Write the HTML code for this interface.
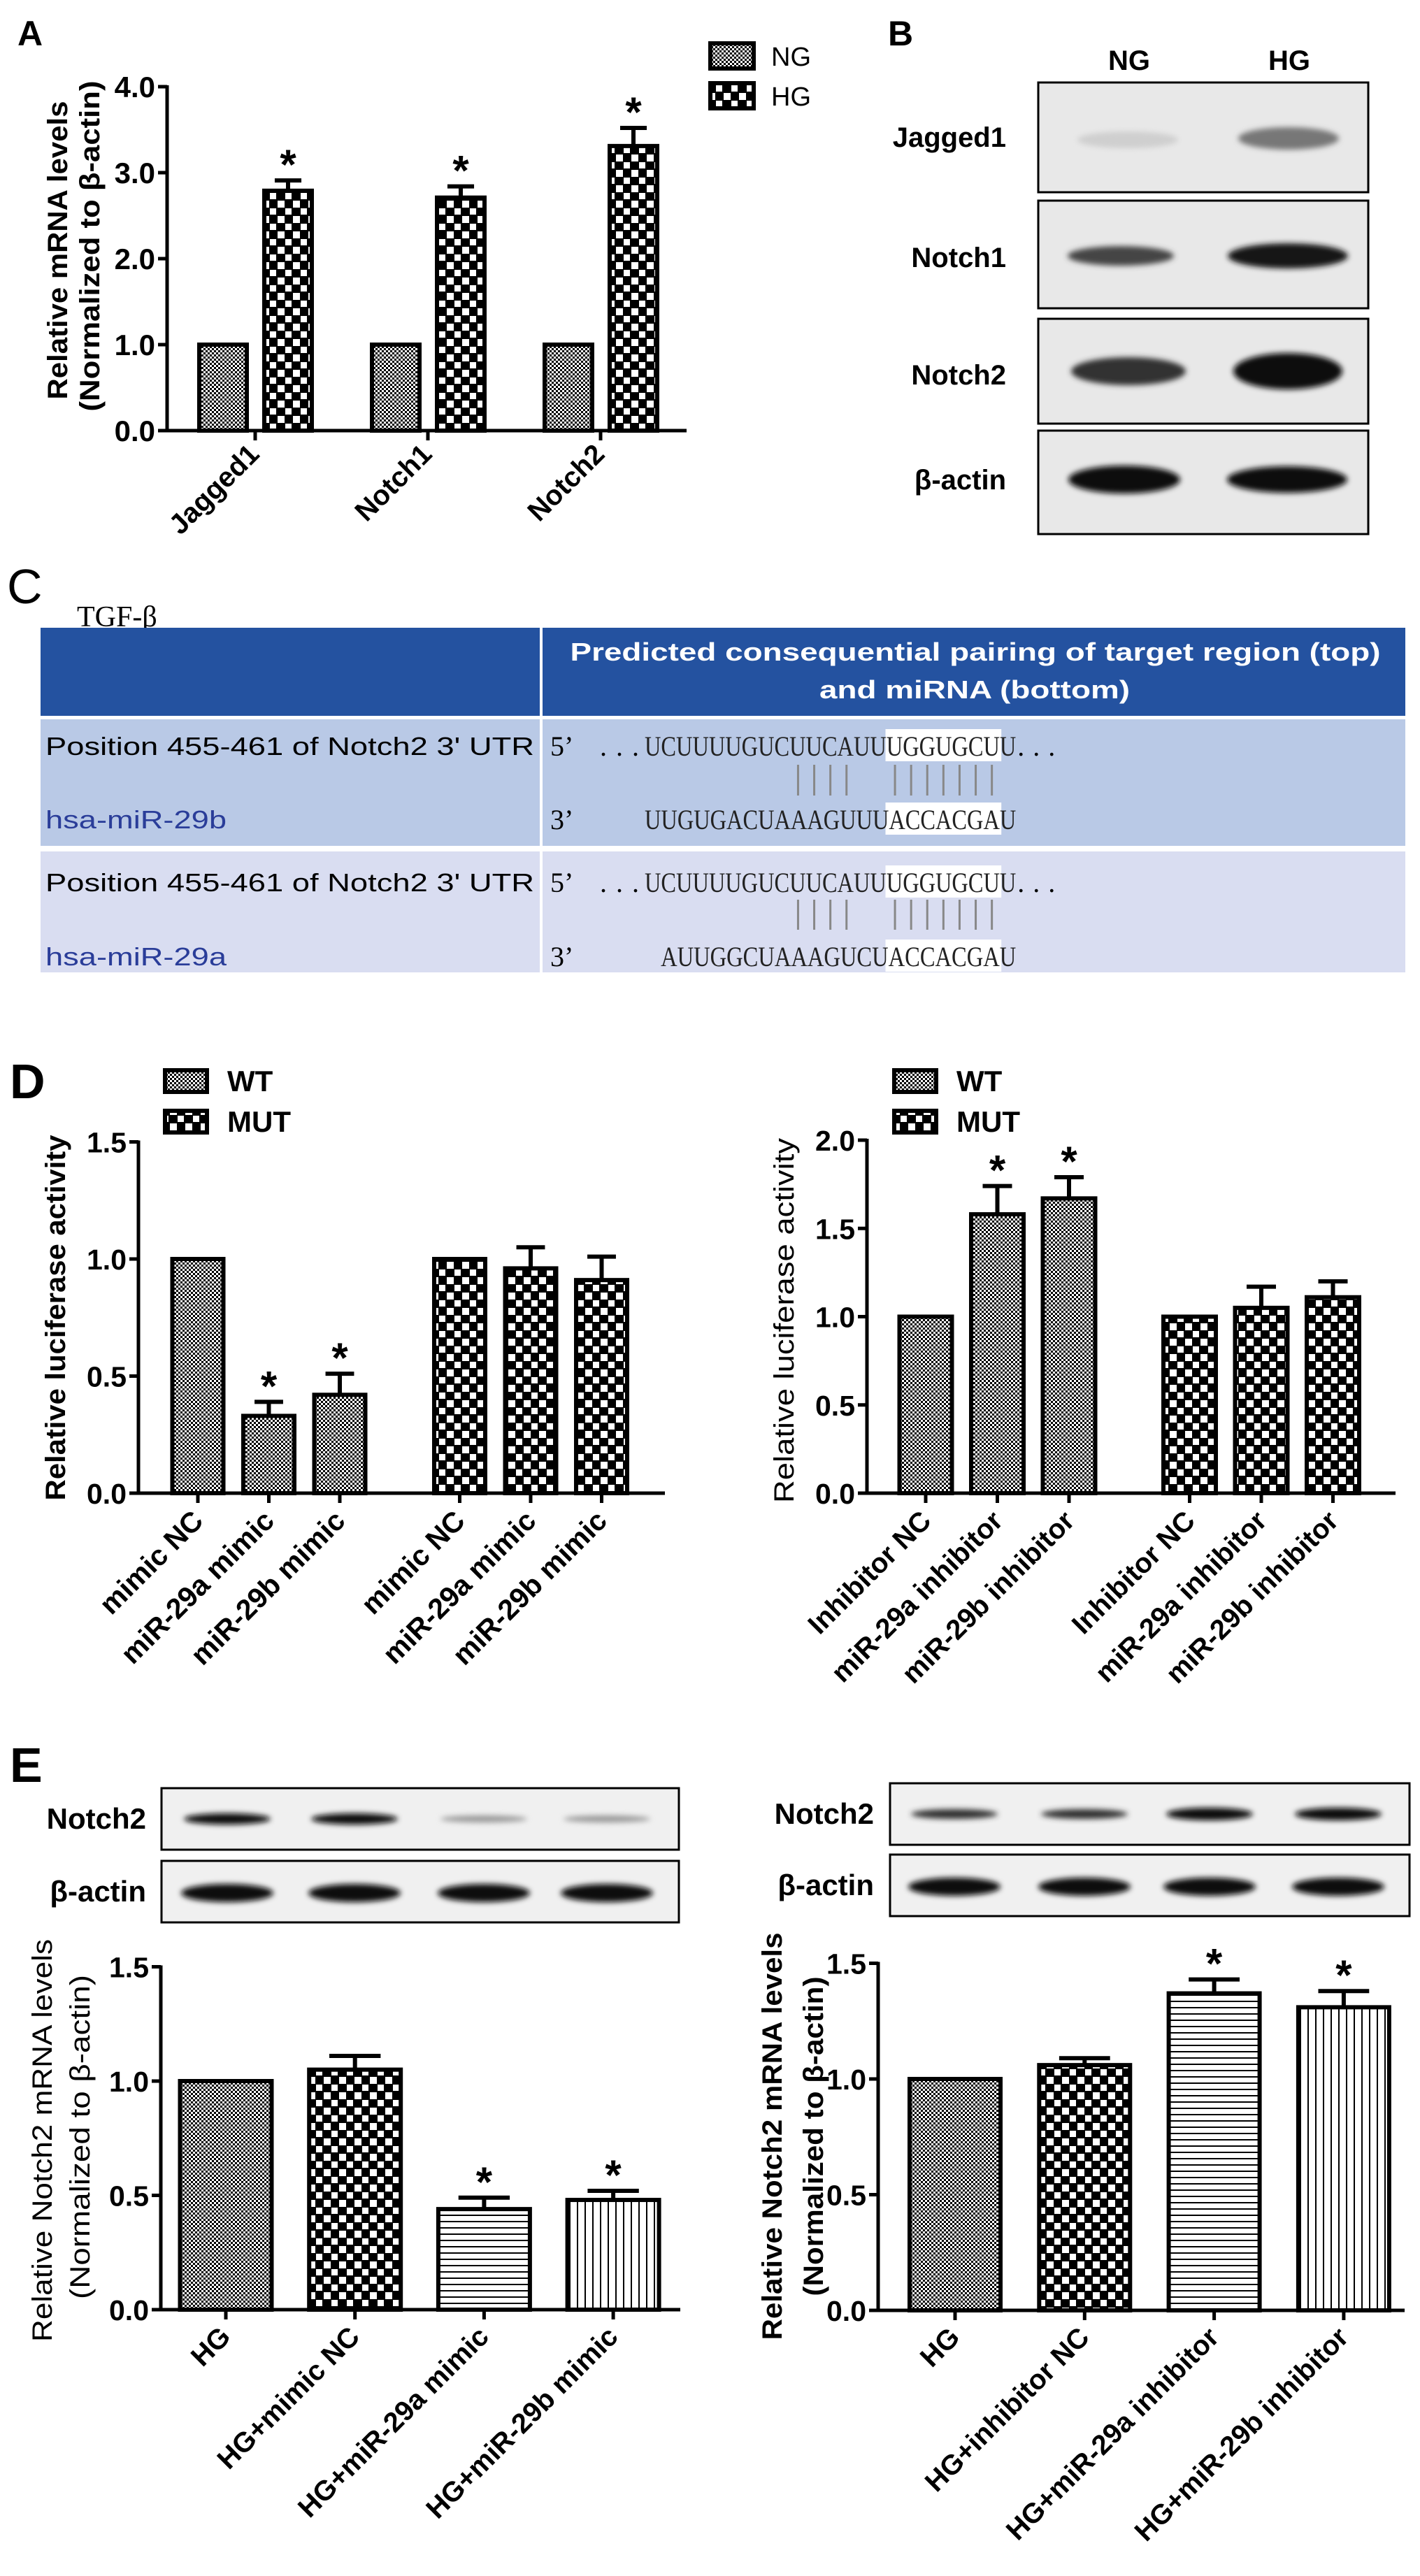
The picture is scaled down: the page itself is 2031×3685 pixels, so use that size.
<!DOCTYPE html>
<html><head><meta charset="utf-8"><title>Figure</title>
<style>html,body{margin:0;padding:0;background:#fff}svg{display:block}text{font-family:"Liberation Sans",Arial,sans-serif}</style>
</head><body>
<svg id="fig" xmlns="http://www.w3.org/2000/svg" width="2031" height="3685" viewBox="0 0 2031 3685">
<defs>
<pattern id="pDots" width="6" height="6" patternUnits="userSpaceOnUse"><rect width="6" height="6" fill="#000"/><rect x="0" y="0" width="3" height="3" fill="#fff"/><rect x="3" y="3" width="3" height="3" fill="#fff"/></pattern>
<pattern id="pCheck" width="22" height="22" patternUnits="userSpaceOnUse"><rect width="22" height="22" fill="#000"/><rect x="1" y="1" width="10" height="10" fill="#fff"/><rect x="12" y="12" width="9" height="9" fill="#fff"/></pattern>
<pattern id="pHLines" width="9" height="9" patternUnits="userSpaceOnUse"><rect width="9" height="9" fill="#fff"/><rect y="0" width="9" height="2" fill="#000"/></pattern>
<pattern id="pVLines" width="11" height="11" patternUnits="userSpaceOnUse"><rect width="11" height="11" fill="#fff"/><rect x="0" width="2" height="11" fill="#000"/></pattern>
<filter id="blur" x="-20%" y="-60%" width="140%" height="220%"><feGaussianBlur stdDeviation="4"/></filter>
</defs>
<rect width="2031" height="3685" fill="#fff"/>

<text x="25" y="65" font-size="50" font-weight="bold">A</text>
<text x="1270" y="65" font-size="50" font-weight="bold">B</text>
<text x="10" y="863" font-size="70">C</text>
<text x="14" y="1571" font-size="70" font-weight="bold">D</text>
<text x="14" y="2549" font-size="70" font-weight="bold">E</text>

<g>
<rect x="1016" y="62" width="62" height="36" fill="url(#pDots)" stroke="#000" stroke-width="6"/>
<text x="1103" y="94" font-size="38">NG</text>
<rect x="1016" y="119" width="62" height="36" fill="url(#pCheck)" stroke="#000" stroke-width="6"/>
<text x="1103" y="151" font-size="38">HG</text>
</g>

<g font-weight="bold">
<text x="1615" y="100" font-size="40" text-anchor="middle">NG</text>
<text x="1844" y="100" font-size="40" text-anchor="middle">HG</text>
<rect x="1485" y="118" width="472" height="157" fill="#e8e8e8" stroke="#000" stroke-width="3"/>
<rect x="1485" y="287" width="472" height="154" fill="#e8e8e8" stroke="#000" stroke-width="3"/>
<rect x="1485" y="456" width="472" height="150" fill="#e8e8e8" stroke="#000" stroke-width="3"/>
<rect x="1485" y="616" width="472" height="148" fill="#e8e8e8" stroke="#000" stroke-width="3"/>
<g filter="url(#blur)">
<ellipse cx="1613" cy="200" rx="72" ry="12" fill="#cfcfcf"/>
<ellipse cx="1843" cy="198" rx="72" ry="16" fill="#777"/>
<ellipse cx="1603" cy="366" rx="76" ry="14" fill="#444"/>
<ellipse cx="1842" cy="366" rx="86" ry="18" fill="#151515"/>
<ellipse cx="1614" cy="531" rx="82" ry="20" fill="#303030"/>
<ellipse cx="1842" cy="531" rx="78" ry="26" fill="#0c0c0c"/>
<ellipse cx="1608" cy="686" rx="80" ry="20" fill="#0c0c0c"/>
<ellipse cx="1841" cy="686" rx="86" ry="19" fill="#0c0c0c"/>
</g>
<text x="1439" y="210" font-size="40" text-anchor="end">Jagged1</text>
<text x="1439" y="382" font-size="40" text-anchor="end">Notch1</text>
<text x="1439" y="550" font-size="40" text-anchor="end">Notch2</text>
<text x="1439" y="700" font-size="40" text-anchor="end">β-actin</text>
</g>

<g>
<text x="110" y="896" font-size="42" style="font-family:'Liberation Serif',serif">TGF-β</text>
<rect x="58" y="898" width="1952" height="126" fill="#2452a0"/>
<rect x="58" y="1029" width="1952" height="181" fill="#b9c9e6"/>
<rect x="58" y="1218" width="1952" height="173" fill="#d9ddf1"/>
<rect x="772" y="898" width="4" height="493" fill="#fff"/>
<text x="1395" y="945" font-size="36" font-weight="bold" fill="#fff" text-anchor="middle" textLength="1159" lengthAdjust="spacingAndGlyphs">Predicted consequential pairing of target region (top)</text>
<text x="1394" y="999" font-size="36" font-weight="bold" fill="#fff" text-anchor="middle" textLength="444" lengthAdjust="spacingAndGlyphs">and miRNA (bottom)</text>
<g id="rowsC"></g>
</g>

<g id="charts"></g>
</svg>
<script>
const NS = 'http://www.w3.org/2000/svg';
const svg = document.getElementById('fig');

const aCats = ['Jagged1', 'Notch1', 'Notch2'];
const aNG = [1.0, 1.0, 1.0];
const aHG = [2.79, 2.71, 3.31];
const aHGErr = [0.12, 0.13, 0.21];
const aTicks = [0, 1, 2, 3, 4];

const dlCats = ['mimic NC', 'miR-29a mimic', 'miR-29b mimic', 'mimic NC', 'miR-29a mimic', 'miR-29b mimic'];
const dlVals = [1.0, 0.33, 0.42, 1.0, 0.96, 0.91];
const dlErr = [0, 0.06, 0.09, 0, 0.09, 0.10];
const dlSig = [0, 1, 1, 0, 0, 0];
const dlTicks = [0, 0.5, 1.0, 1.5];
const drCats = ['Inhibitor NC', 'miR-29a inhibitor', 'miR-29b inhibitor', 'Inhibitor NC', 'miR-29a inhibitor', 'miR-29b inhibitor'];
const drVals = [1.0, 1.58, 1.67, 1.0, 1.05, 1.11];
const drErr = [0, 0.16, 0.12, 0, 0.12, 0.09];
const drSig = [0, 1, 1, 0, 0, 0];
const drTicks = [0, 0.5, 1.0, 1.5, 2.0];

const elCats = ['HG', 'HG+mimic NC', 'HG+miR-29a mimic', 'HG+miR-29b mimic'];
const elVals = [1.0, 1.05, 0.44, 0.48];
const elErr = [0, 0.06, 0.05, 0.04];
const elSig = [0, 0, 1, 1];
const erCats = ['HG', 'HG+inhibitor NC', 'HG+miR-29a inhibitor', 'HG+miR-29b inhibitor'];
const erVals = [1.0, 1.06, 1.37, 1.31];
const erErr = [0, 0.03, 0.06, 0.07];
const erSig = [0, 0, 1, 1];
const eTicks = [0, 0.5, 1.0, 1.5];

function mk(tag, attrs, name, parent, txt) {
  const e = document.createElementNS(NS, tag);
  for (const k in attrs) e.setAttribute(k, attrs[k]);
  
  
  if (txt !== undefined) e.textContent = txt;
  (parent || svg).appendChild(e);
  return e;
}

(function () {
  const g = document.getElementById('rowsC');
  const cw = 23.1, sx = 922;
  const rows = [
    {top: 1067, bot: 1172, lines: [1094, 1138], name: 'hsa-miR-29b', mir: 'UUGUGACUAAAGUUUACCACGAU', mirStart: 0},
    {top: 1262, bot: 1368, lines: [1287, 1330], name: 'hsa-miR-29a', mir: 'AUUGGCUAAAGUCUACCACGAU', mirStart: 1}
  ];
  rows.forEach((r, ri) => {
    mk('text', {x: 65, y: r.top + 13, 'font-size': 36, textLength: 699, lengthAdjust: 'spacingAndGlyphs'}, 'utr-position-label', g, "Position 455-461 of Notch2 3' UTR");
    mk('text', {x: 65, y: r.bot + 13, 'font-size': 36, fill: '#2a3d99', textLength: 259, lengthAdjust: 'spacingAndGlyphs'}, 'mirna-name', g, r.name);
    mk('rect', {x: sx + 15 * cw - 2, y: r.top - 24, width: 7 * cw + 4, height: 46, fill: '#fff'}, 'seed-highlight-target', g);
    mk('rect', {x: sx + 15 * cw - 2, y: r.bot - 24, width: 7 * cw + 4, height: 46, fill: '#fff'}, 'seed-highlight-mirna', g);
    const serif = "font-family:'Liberation Serif',serif";
    mk('text', {x: 787, y: r.top + 14, 'font-size': 40, style: serif}, 'five-prime-label', g, '5’');
    mk('text', {x: 787, y: r.bot + 14, 'font-size': 40, style: serif}, 'three-prime-label', g, '3’');
    mk('text', {x: 858, y: r.top + 14, 'font-size': 40, style: serif, textLength: 56, lengthAdjust: 'spacing'}, 'ellipsis', g, '...');
    mk('text', {x: sx, y: r.top + 14, 'font-size': 40, style: serif, textLength: 23 * cw, lengthAdjust: 'spacingAndGlyphs', fill: '#222'}, 'target-sequence', g, 'UCUUUUGUCUUCAUUUGGUGCUU');
    mk('text', {x: sx + 23 * cw + 2, y: r.top + 14, 'font-size': 40, style: serif, textLength: 54, lengthAdjust: 'spacing'}, 'ellipsis', g, '...');
    const mlen = r.mir.length;
    mk('text', {x: sx + r.mirStart * cw, y: r.bot + 14, 'font-size': 40, style: serif, textLength: mlen * cw, lengthAdjust: 'spacingAndGlyphs', fill: '#222'}, 'mirna-sequence', g, r.mir);
    [9, 10, 11, 12, 15, 16, 17, 18, 19, 20, 21].forEach(i => {
      const x = sx + (i + 0.5) * cw;
      mk('line', {x1: x, x2: x, y1: r.lines[0], y2: r.lines[1], stroke: '#888', 'stroke-width': 3}, 'base-pair-line', g);
    });
  });
})();

function chart(o) {
  const g = mk('g', {}, o.name, svg);
  const Y = v => o.y0 - v * o.unit;
  o.series.forEach(s => {
    s.vals.forEach((v, i) => {
      const cx = o.xPos(i) + (s.off || 0);
      const fill = s.fills ? s.fills[i] : s.fill;
      mk('rect', {x: cx - o.barW / 2, y: Y(v), width: o.barW, height: o.y0 - Y(v), fill: fill, stroke: '#000', 'stroke-width': 6}, 'bar-' + s.key + '-' + i, g);
      const e = s.errs ? s.errs[i] : 0;
      if (e > 0) {
        mk('line', {x1: cx, x2: cx, y1: Y(v), y2: Y(v + e), stroke: '#000', 'stroke-width': 6}, 'error-bar', g);
        mk('line', {x1: cx - o.barW * 0.28, x2: cx + o.barW * 0.28, y1: Y(v + e), y2: Y(v + e), stroke: '#000', 'stroke-width': 6}, 'error-cap', g);
      }
      if (s.sig && s.sig[i]) {
        mk('text', {x: cx, y: Y(v + e) - 2, 'font-size': 60, 'font-weight': 'bold', 'text-anchor': 'middle'}, 'significance-asterisk', g, '*');
      }
    });
  });
  mk('line', {x1: o.axisX, x2: o.axisX, y1: Y(o.ticks[o.ticks.length - 1]) - 2, y2: o.y0 + 2, stroke: '#000', 'stroke-width': 5}, 'y-axis', g);
  mk('line', {x1: o.axisX - 2, x2: o.xEnd, y1: o.y0, y2: o.y0, stroke: '#000', 'stroke-width': 5}, 'x-axis', g);
  o.ticks.forEach(t => {
    mk('line', {x1: o.axisX - 13, x2: o.axisX, y1: Y(t), y2: Y(t), stroke: '#000', 'stroke-width': 5}, 'y-tick', g);
    mk('text', {x: o.axisX - 17, y: Y(t) + 15, 'font-size': o.tickFont || 41, 'font-weight': 'bold', 'text-anchor': 'end'}, 'y-tick-label', g, t.toFixed(1));
  });
  o.cats.forEach((c, i) => {
    const x = o.xPos(i);
    mk('line', {x1: x, x2: x, y1: o.y0, y2: o.y0 + 14, stroke: '#000', 'stroke-width': 5}, 'x-tick', g);
    const lx = x + o.lab[0], ly = o.y0 + o.lab[1];
    mk('text', {x: lx, y: ly, 'font-size': o.labFont, 'font-weight': 'bold', 'text-anchor': 'end', transform: 'rotate(-45 ' + lx + ' ' + ly + ')'}, 'x-tick-label', g, c);
  });
  o.titles.forEach(t => {
    mk('text', {x: t.x, y: t.y, 'font-size': t.fs || 40, 'font-weight': t.bold ? 'bold' : 'normal', 'text-anchor': 'middle', 'dominant-baseline': 'central', textLength: t.len, lengthAdjust: 'spacingAndGlyphs', transform: 'rotate(-90 ' + t.x + ' ' + t.y + ')'}, 'y-axis-title', g, t.text);
  });
}

chart({name: 'chart-a', axisX: 239, y0: 616, unit: 123, ticks: aTicks, xEnd: 982, barW: 68,
  xPos: i => 365 + i * 247, cats: aCats, lab: [8, 36], labFont: 40, tickFont: 42,
  series: [{key: 'ng', vals: aNG, off: -46, fill: 'url(#pDots)'},
           {key: 'hg', vals: aHG, errs: aHGErr, off: 47, fill: 'url(#pCheck)', sig: [1, 1, 1]}],
  titles: [{x: 83, y: 358, len: 427, text: 'Relative mRNA levels', bold: true},
           {x: 129, y: 352, len: 473, text: '(Normalized to β-actin)', bold: true}]});

const dlFills = ['url(#pDots)', 'url(#pDots)', 'url(#pDots)', 'url(#pCheck)', 'url(#pCheck)', 'url(#pCheck)'];
chart({name: 'chart-d-mimic', axisX: 198, y0: 2136, unit: 335, ticks: dlTicks, xEnd: 951, barW: 73,
  xPos: i => 283 + i * 101.5 + (i >= 3 ? 70 : 0), cats: dlCats, lab: [10, 42], labFont: 41,
  series: [{key: 'luc', vals: dlVals, errs: dlErr, sig: dlSig, fills: dlFills}],
  titles: [{x: 80, y: 1885, len: 523, text: 'Relative luciferase activity', bold: true}]});
chart({name: 'chart-d-inhibitor', axisX: 1240, y0: 2136, unit: 252.5, ticks: drTicks, xEnd: 1996, barW: 75,
  xPos: i => 1324 + i * 102.5 + (i >= 3 ? 70 : 0), cats: drCats, lab: [10, 42], labFont: 40,
  series: [{key: 'luc', vals: drVals, errs: drErr, sig: drSig, fills: dlFills}],
  titles: [{x: 1122, y: 1889, len: 522, text: 'Relative luciferase activity', bold: false}]});

[[236, 325, 'legend-d-mimic'], [1279, 1368, 'legend-d-inhibitor']].forEach(L => {
  const g = mk('g', {}, L[2], svg);
  mk('rect', {x: L[0], y: 1531, width: 60, height: 31, fill: 'url(#pDots)', stroke: '#000', 'stroke-width': 6}, 'legend-swatch-wt', g);
  mk('text', {x: L[1], y: 1561, 'font-size': 42, 'font-weight': 'bold'}, 'legend-label-wt', g, 'WT');
  mk('rect', {x: L[0], y: 1589, width: 60, height: 31, fill: 'url(#pCheck)', stroke: '#000', 'stroke-width': 6}, 'legend-swatch-mut', g);
  mk('text', {x: L[1], y: 1619, 'font-size': 42, 'font-weight': 'bold'}, 'legend-label-mut', g, 'MUT');
});

const eFills = ['url(#pDots)', 'url(#pCheck)', 'url(#pHLines)', 'url(#pVLines)'];
chart({name: 'chart-e-mimic', axisX: 230, y0: 3304, unit: 327, ticks: eTicks, xEnd: 973, barW: 131,
  xPos: i => 323 + i * 184.7, cats: elCats, lab: [9, 41], labFont: 40,
  series: [{key: 'notch2', vals: elVals, errs: elErr, sig: elSig, fills: eFills}],
  titles: [{x: 61, y: 3062, len: 576, text: 'Relative Notch2 mRNA levels', bold: false},
           {x: 115, y: 3057, len: 464, text: '(Normalized to β-actin)', bold: false}]});
chart({name: 'chart-e-inhibitor', axisX: 1256, y0: 3305, unit: 331, ticks: eTicks, xEnd: 2009, barW: 130,
  xPos: i => 1366 + i * 185.3, cats: erCats, lab: [9, 41], labFont: 40,
  series: [{key: 'notch2', vals: erVals, errs: erErr, sig: erSig, fills: eFills}],
  titles: [{x: 1105, y: 3056, len: 583, text: 'Relative Notch2 mRNA levels', bold: true},
           {x: 1164, y: 3056, len: 457, text: '(Normalized to β-actin)', bold: true}]});

function blot(name, x, w, y1, h1, y2, h2, lanes, n2col, lblX) {
  const g = mk('g', {}, name, svg);
  mk('rect', {x: x, y: y1, width: w, height: h1, fill: '#f0f0f0', stroke: '#000', 'stroke-width': 3}, 'blot-notch2-box', g);
  mk('rect', {x: x, y: y2, width: w, height: h2, fill: '#f0f0f0', stroke: '#000', 'stroke-width': 3}, 'blot-actin-box', g);
  const bg = mk('g', {filter: 'url(#blur)'}, 'bands', g);
  lanes.forEach((cx, i) => {
    mk('ellipse', {cx: cx, cy: y1 + h1 / 2, rx: 62, ry: n2col[i][1], fill: n2col[i][0]}, 'band-notch2', bg);
    mk('ellipse', {cx: cx, cy: y2 + h2 / 2 + 2, rx: 66, ry: 13, fill: '#0a0a0a'}, 'band-actin', bg);
  });
  mk('text', {x: lblX, y: y1 + h1 / 2 + 14, 'font-size': 42, 'font-weight': 'bold', 'text-anchor': 'end'}, 'blot-label-notch2', g, 'Notch2');
  mk('text', {x: lblX, y: y2 + h2 / 2 + 14, 'font-size': 42, 'font-weight': 'bold', 'text-anchor': 'end'}, 'blot-label-actin', g, 'β-actin');
}
blot('western-blot-e-mimic', 231, 740, 2558, 88, 2662, 88, [325, 507, 692, 868],
  [['#111', 8], ['#111', 8], ['#999', 5], ['#999', 5]], 209);
blot('western-blot-e-inhibitor', 1273, 743, 2551, 88, 2653, 88, [1365, 1551, 1730, 1914],
  [['#333', 7], ['#333', 7], ['#111', 9], ['#111', 9]], 1250);
</script>
</body></html>
